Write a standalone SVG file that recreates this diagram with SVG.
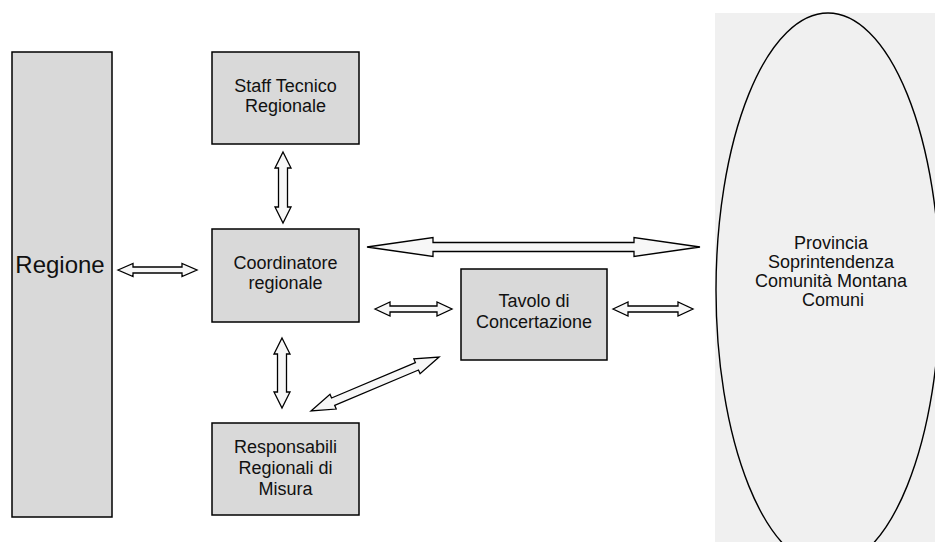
<svg xmlns="http://www.w3.org/2000/svg" width="935" height="542" viewBox="0 0 935 542">
<style>
.box{fill:#d9d9d9;stroke:#000;stroke-width:1.5}
.t{font-family:"Liberation Sans",Arial,sans-serif;font-size:18px;fill:#111;text-anchor:middle}
.arr{fill:#f7f7f7;stroke:#000;stroke-width:1.3;stroke-linejoin:miter}
</style>
<rect x="0" y="0" width="935" height="542" fill="#fff"/>
<g id="esterni">
<rect x="715" y="13" width="220" height="529" fill="#f0f0f0"/>
<ellipse cx="828" cy="290" rx="112" ry="277" fill="none" stroke="#000" stroke-width="1.4"/>
<text class="t" x="831" y="249">Provincia</text>
<text class="t" x="831" y="268">Soprintendenza</text>
<text class="t" x="831" y="287">Comunità Montana</text>
<text class="t" x="833" y="306">Comuni</text>
</g>
<g id="regione">
<rect class="box" x="12" y="52" width="100" height="465"/>
<text class="t" x="60" y="273" style="font-size:24px">Regione</text>
</g>
<g id="staff">
<rect class="box" x="212" y="52" width="147" height="92"/>
<text class="t" x="285.5" y="92">Staff Tecnico</text>
<text class="t" x="285.5" y="112">Regionale</text>
</g>
<g id="coordinatore">
<rect class="box" x="212" y="229" width="147" height="93"/>
<text class="t" x="285.5" y="269">Coordinatore</text>
<text class="t" x="285.5" y="289">regionale</text>
</g>
<g id="tavolo">
<rect class="box" x="461" y="269" width="146" height="91"/>
<text class="t" x="534" y="307">Tavolo di</text>
<text class="t" x="534" y="328">Concertazione</text>
</g>
<g id="responsabili">
<rect class="box" x="212" y="423" width="147" height="92"/>
<text class="t" x="285.5" y="453">Responsabili</text>
<text class="t" x="285.5" y="474">Regionali di</text>
<text class="t" x="285.5" y="495">Misura</text>
</g>
<g id="connectors">
<polygon class="arr" points="118,270 133,263.5 133,267 182,267 182,263.5 197,270 182,276.5 182,273 133,273 133,276.5"/>
<polygon class="arr" points="375,309 390,302 390,306 437,306 437,302 452,309 437,316 437,312 390,312 390,316"/>
<polygon class="arr" points="613,309 628,302 628,306 678,306 678,302 693,309 678,316 678,312 628,312 628,316"/>
<polygon class="arr" points="367,247 433,237.5 433,242.5 634,242.5 634,237.5 700,247 634,256.5 634,251.5 433,251.5 433,256.5"/>
<polygon class="arr" points="283,152 291,168 287.5,168 287.5,207 291,207 283,223 275,207 278.5,207 278.5,168 275,168"/>
<polygon class="arr" points="282,338 290,354 286.5,354 286.5,392 290,392 282,408 274,392 277.5,392 277.5,354 274,354"/>
<polygon class="arr" transform="translate(311,411) rotate(-22.87)" points="0,0 24,-8 24,-4 115,-4 115,-8 139,0 115,8 115,4 24,4 24,8"/>
</g>
</svg>
